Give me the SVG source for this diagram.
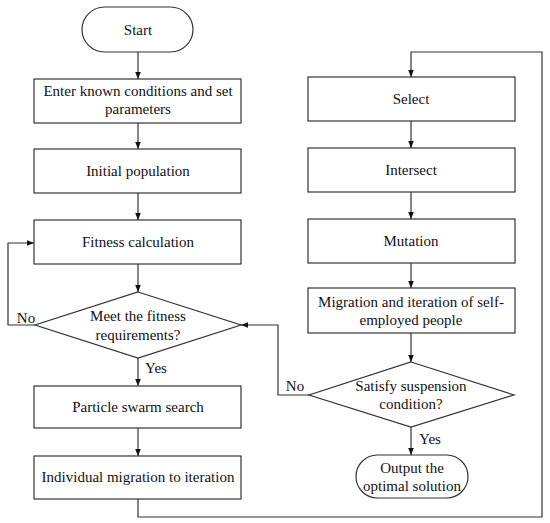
<svg xmlns="http://www.w3.org/2000/svg" width="550" height="523" viewBox="0 0 550 523">
<style>
.n{fill:#fff;stroke:#333;stroke-width:1.2}
.t{font-family:"Liberation Serif","Times New Roman",serif;font-size:15px;fill:#111;text-anchor:middle}
.c{fill:none;stroke:#333;stroke-width:1.2}
</style>
<defs>
<marker id="a" viewBox="0 0 10 10" refX="10" refY="5" markerWidth="7" markerHeight="7" markerUnits="userSpaceOnUse" orient="auto">
<path d="M0,1 L10,5 L0,9 z" fill="#111"/>
</marker>
</defs>
<rect width="550" height="523" fill="#fff"/>
<g id="connectors">
<path class="c" d="M138,52 V79" marker-end="url(#a)"/>
<path class="c" d="M138,123 V149" marker-end="url(#a)"/>
<path class="c" d="M138,193 V220" marker-end="url(#a)"/>
<path class="c" d="M138,264 V292" marker-end="url(#a)"/>
<path class="c" d="M35,325 H8 V243 H34" marker-end="url(#a)"/>
<path class="c" d="M138,358 V386" marker-end="url(#a)"/>
<path class="c" d="M138,428 V456" marker-end="url(#a)"/>
<path class="c" d="M138,499 V517 H542 V52 H411 V77" marker-end="url(#a)"/>
<path class="c" d="M411,121 V148" marker-end="url(#a)"/>
<path class="c" d="M411,192 V219" marker-end="url(#a)"/>
<path class="c" d="M411,263 V288" marker-end="url(#a)"/>
<path class="c" d="M411,333 V362" marker-end="url(#a)"/>
<path class="c" d="M309,395 H278 V325 H241" marker-end="url(#a)"/>
<path class="c" d="M411,427 V455" marker-end="url(#a)"/>
<text class="t" x="26" y="323">No</text>
<text class="t" x="156" y="373">Yes</text>
<text class="t" x="295" y="391">No</text>
<text class="t" x="430" y="444">Yes</text>
</g>
<g id="start">
<rect class="n" x="82" y="7" width="111" height="45" rx="22.5"/>
<text class="t" x="138" y="35">Start</text>
</g>
<g id="enter">
<rect class="n" x="34" y="79" width="207" height="44"/>
<text class="t" x="138" y="96">Enter known conditions and set</text>
<text class="t" x="138" y="114">parameters</text>
</g>
<g id="initial">
<rect class="n" x="34" y="149" width="207" height="44"/>
<text class="t" x="138" y="176">Initial population</text>
</g>
<g id="fitness">
<rect class="n" x="34" y="220" width="207" height="44"/>
<text class="t" x="138" y="247">Fitness calculation</text>
</g>
<g id="meet">
<polygon class="n" points="138,292 241,325 138,358 35,325"/>
<text class="t" x="138" y="321">Meet the fitness</text>
<text class="t" x="138" y="340">requirements?</text>
</g>
<g id="particle">
<rect class="n" x="34" y="386" width="207" height="42"/>
<text class="t" x="138" y="412">Particle swarm search</text>
</g>
<g id="individual">
<rect class="n" x="34" y="456" width="207" height="43"/>
<text class="t" x="138" y="482">Individual migration to iteration</text>
</g>
<g id="select">
<rect class="n" x="308" y="77" width="207" height="44"/>
<text class="t" x="411" y="104">Select</text>
</g>
<g id="intersect">
<rect class="n" x="308" y="148" width="207" height="44"/>
<text class="t" x="411" y="175">Intersect</text>
</g>
<g id="mutation">
<rect class="n" x="308" y="219" width="207" height="44"/>
<text class="t" x="411" y="246">Mutation</text>
</g>
<g id="migration">
<rect class="n" x="308" y="288" width="207" height="45"/>
<text class="t" x="411" y="307">Migration and iteration of self-</text>
<text class="t" x="411" y="325">employed people</text>
</g>
<g id="satisfy">
<polygon class="n" points="411,362 514,395 411,427 309,395"/>
<text class="t" x="411" y="391">Satisfy suspension</text>
<text class="t" x="411" y="409">condition?</text>
</g>
<g id="output">
<rect class="n" x="356" y="455" width="112" height="43" rx="21.5"/>
<text class="t" x="412" y="473">Output the</text>
<text class="t" x="412" y="491">optimal solution</text>
</g>
</svg>
